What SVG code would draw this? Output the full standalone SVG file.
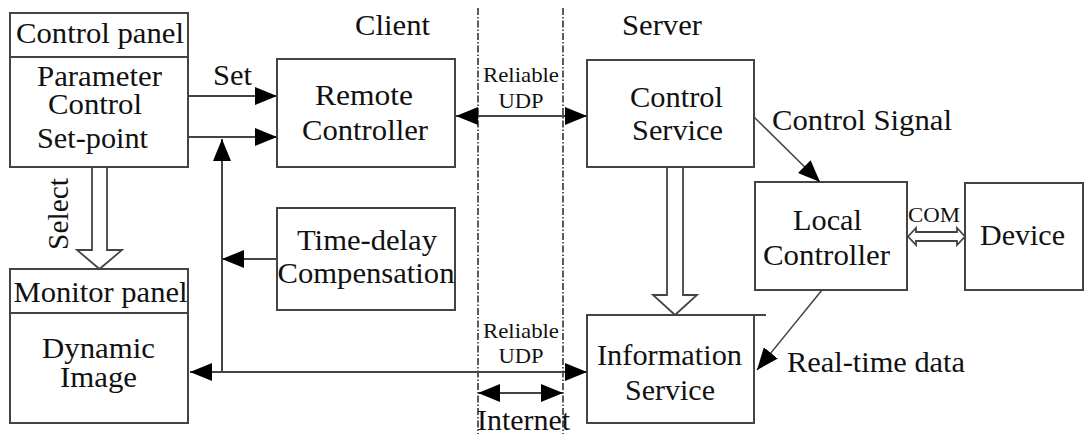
<svg xmlns="http://www.w3.org/2000/svg" width="1087" height="434" viewBox="0 0 1087 434">
  <style>
    .box { fill: #fff; stroke: #444; stroke-width: 2; }
    .ln { fill: none; stroke: #444; stroke-width: 2; }
    .thin { fill: none; stroke: #444; stroke-width: 1.5; }
    .hollow { fill: #fff; stroke: #444; stroke-width: 1.8; }
    .dd { fill: none; stroke: #333; stroke-width: 1.6; stroke-dasharray: 7 2 1.5 2; }
    .t { font-size: 29px; }
    .c { text-anchor: middle; }
    .s { font-size: 21px; }
  </style>
  <defs>
    <marker id="ah" markerUnits="userSpaceOnUse" markerWidth="22" markerHeight="18" refX="22" refY="9" orient="auto-start-reverse" viewBox="0 0 22 18">
      <path d="M0,0 L22,9 L0,18 z" fill="#000"/>
    </marker>
  </defs>

  <g id="separators">
    <line class="dd" x1="478" y1="8" x2="478" y2="434"/>
    <line class="dd" x1="563" y1="8" x2="563" y2="434"/>
  </g>

  <g font-family="'Liberation Serif', serif" fill="#111" lengthAdjust="spacingAndGlyphs">
  <g id="control-panel">
    <rect class="box" x="10" y="13" width="178" height="154"/>
    <line class="ln" x1="10" y1="57" x2="188" y2="57"/>
    <text class="t c" x="100" y="43" textLength="168" lengthAdjust="spacingAndGlyphs">Control panel</text>
    <text class="t c" x="99.5" y="86" textLength="125" lengthAdjust="spacingAndGlyphs">Parameter</text>
    <text class="t c" x="95" y="114" textLength="94" lengthAdjust="spacingAndGlyphs">Control</text>
    <text class="t c" x="92.5" y="148" textLength="111" lengthAdjust="spacingAndGlyphs">Set-point</text>
  </g>

  <g id="monitor-panel">
    <rect class="box" x="10" y="269" width="178" height="154"/>
    <line class="ln" x1="10" y1="313" x2="188" y2="313"/>
    <text class="t c" x="100.5" y="302" textLength="174" lengthAdjust="spacingAndGlyphs">Monitor panel</text>
    <text class="t c" x="98.5" y="358" textLength="113" lengthAdjust="spacingAndGlyphs">Dynamic</text>
    <text class="t c" x="98.5" y="387" textLength="77" lengthAdjust="spacingAndGlyphs">Image</text>
  </g>

  <g id="remote-controller">
    <rect class="box" x="277" y="59" width="178" height="108"/>
    <text class="t c" x="364" y="105" textLength="98" lengthAdjust="spacingAndGlyphs">Remote</text>
    <text class="t c" x="365" y="140" textLength="126" lengthAdjust="spacingAndGlyphs">Controller</text>
  </g>

  <g id="time-delay">
    <rect class="box" x="277" y="208" width="178" height="102"/>
    <text class="t c" x="367" y="250" textLength="140" lengthAdjust="spacingAndGlyphs">Time-delay</text>
    <text class="t c" x="366" y="283" textLength="177" lengthAdjust="spacingAndGlyphs">Compensation</text>
  </g>

  <g id="control-service">
    <rect class="box" x="587" y="60" width="167" height="107"/>
    <text class="t c" x="676.5" y="107" textLength="93" lengthAdjust="spacingAndGlyphs">Control</text>
    <text class="t c" x="677.5" y="140" textLength="91" lengthAdjust="spacingAndGlyphs">Service</text>
  </g>

  <g id="local-controller">
    <rect class="box" x="755" y="182" width="152" height="108"/>
    <text class="t c" x="827.5" y="230" textLength="69" lengthAdjust="spacingAndGlyphs">Local</text>
    <text class="t c" x="826.5" y="265" textLength="127" lengthAdjust="spacingAndGlyphs">Controller</text>
  </g>

  <g id="device">
    <rect class="box" x="965" y="183" width="118" height="107"/>
    <text class="t c" x="1022.5" y="245" textLength="85" lengthAdjust="spacingAndGlyphs">Device</text>
  </g>

  <g id="information-service">
    <rect class="box" x="587" y="315" width="167" height="108"/>
    <line class="ln" x1="754" y1="315" x2="766" y2="315"/>
    <text class="t c" x="669.5" y="365" textLength="145" lengthAdjust="spacingAndGlyphs">Information</text>
    <text class="t c" x="670" y="400" textLength="90" lengthAdjust="spacingAndGlyphs">Service</text>
  </g>

  <g id="labels">
    <text class="t c" x="392.5" y="35" textLength="75" lengthAdjust="spacingAndGlyphs">Client</text>
    <text class="t c" x="662" y="35" textLength="80" lengthAdjust="spacingAndGlyphs">Server</text>
    <text class="t c" x="523.5" y="430" textLength="93" lengthAdjust="spacingAndGlyphs">Internet</text>
    <text class="t" x="213" y="85" textLength="39" lengthAdjust="spacingAndGlyphs">Set</text>
    <text class="t c" transform="translate(68,214) rotate(-90)" textLength="72" lengthAdjust="spacingAndGlyphs">Select</text>
    <text class="s c" x="521" y="82" textLength="76" lengthAdjust="spacingAndGlyphs">Reliable</text>
    <text class="s c" x="521" y="108" textLength="45" lengthAdjust="spacingAndGlyphs">UDP</text>
    <text class="s c" x="521" y="338" textLength="76" lengthAdjust="spacingAndGlyphs">Reliable</text>
    <text class="s c" x="521" y="363" textLength="45" lengthAdjust="spacingAndGlyphs">UDP</text>
    <text class="t" x="772" y="130" textLength="180" lengthAdjust="spacingAndGlyphs">Control Signal</text>
    <text class="t" x="787" y="372" textLength="178" lengthAdjust="spacingAndGlyphs">Real-time data</text>
    <text class="s" x="908" y="222" textLength="52" lengthAdjust="spacingAndGlyphs">COM</text>
  </g>
  </g>

  <g id="connectors">
    <line class="ln" x1="188" y1="96" x2="277" y2="96" marker-end="url(#ah)"/>
    <line class="ln" x1="188" y1="137" x2="277" y2="137" marker-end="url(#ah)"/>
    <line class="ln" x1="222" y1="372" x2="222" y2="139" marker-end="url(#ah)"/>
    <line class="ln" x1="277" y1="259" x2="222" y2="259" marker-end="url(#ah)"/>
    <line class="ln" x1="190" y1="372" x2="587" y2="372" marker-start="url(#ah)" marker-end="url(#ah)"/>
    <line class="ln" x1="456" y1="116" x2="587" y2="116" marker-start="url(#ah)" marker-end="url(#ah)"/>
    <line class="ln" x1="478" y1="393" x2="563" y2="393" marker-start="url(#ah)" marker-end="url(#ah)"/>
    <line class="thin" x1="754" y1="117" x2="820" y2="182" marker-end="url(#ah)"/>
    <line class="thin" x1="822" y1="290" x2="757" y2="370" marker-end="url(#ah)"/>
    <polygon class="hollow" points="92,167 92,250 77,250 99.5,269 122,250 107,250 107,167"/>
    <polygon class="hollow" points="667,167 667,295 653,295 675,315 697,295 683,295 683,167"/>
    <polygon class="hollow" stroke-width="1.3" points="908,236.5 916,228 916,232 957,232 957,228 965,236.5 957,245 957,241 916,241 916,245"/>
  </g>
</svg>
